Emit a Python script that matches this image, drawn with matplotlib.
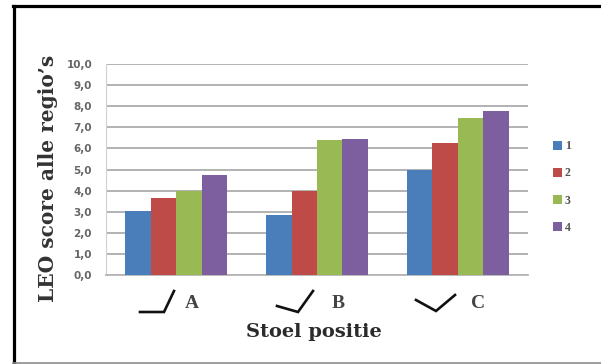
import matplotlib
matplotlib.use("Agg")
import matplotlib.pyplot as plt
from matplotlib.lines import Line2D
from matplotlib.patches import Patch
import numpy as np

W, H = 601, 364
categories = ["A", "B", "C"]
series_names = ["1", "2", "3", "4"]
s1 = [3.05, 2.85, 5.0]
s2 = [3.65, 4.0, 6.25]
s3 = [4.0, 6.4, 7.45]
s4 = [4.75, 6.45, 7.75]
series = [s1, s2, s3, s4]
colors = ["#4a7ebb", "#be4b48", "#98b954", "#7d5fa0"]
yticks = np.arange(0, 11)
ytick_labels = [f"{v},0" for v in yticks]

fig = plt.figure(figsize=(W / 100, H / 100), dpi=100, facecolor="white")

def fx(p): return p / W
def fy(p): return 1 - p / H

ax = fig.add_axes([fx(106), fy(275), fx(528 - 106), (275 - 64) / H])
x = np.arange(len(categories))
bw = 0.181
for i, (vals, c) in enumerate(zip(series, colors)):
    ax.bar(x + (i - 1.5) * bw, vals, bw, color=c, zorder=3, linewidth=0)
ax.set_xlim(-0.5, 2.5)
ax.set_ylim(0, 10)
ax.set_yticks(yticks, ytick_labels, fontsize=7.5, color="#666666", fontweight="bold", family="DejaVu Sans")
ax.set_xticks([])
ax.tick_params(axis="y", length=0, pad=10)
ax.grid(axis="y", color="#adadad", linewidth=1.3, zorder=0)
for s in ["top", "right"]:
    ax.spines[s].set_visible(False)
ax.spines["left"].set_color("#d0d0d0")
ax.spines["bottom"].set_color("#b5b5b5")
ax.spines["bottom"].set_linewidth(1.3)

serif = "DejaVu Serif"
fig.text(fx(48), fy(178), "LEO score alle regio’s", rotation=90, ha="center", va="center",
         family=serif, fontweight="bold", fontsize=14.5, color="#333333")
fig.text(fx(314), fy(332), "Stoel positie", ha="center", va="center",
         family=serif, fontweight="bold", fontsize=14, color="#2b2b2b")
for lab, px in zip(categories, [192, 338, 478]):
    fig.text(fx(px), fy(303), lab, ha="center", va="center", family="Liberation Serif",
             fontweight="bold", fontsize=14, color="#444444")

# hand-drawn angle icons below the groups
icons = [[(140, 312), (164, 312), (174, 291)],
         [(277, 306), (298, 312), (313, 291)],
         [(416, 300), (436, 311), (455, 295)]]
for pts in icons:
    fig.add_artist(Line2D([fx(p[0]) for p in pts], [fy(p[1]) for p in pts],
                          color="#111111", lw=1.9, solid_joinstyle="miter"))

handles = [Patch(facecolor=c, label=n) for c, n in zip(colors, series_names)]
fig.legend(handles=handles, loc="center left", bbox_to_anchor=(fx(553), fy(187)),
           frameon=False, handlelength=0.8, handleheight=0.8, handletextpad=0.2,
           labelspacing=1.28, prop={"family": "Liberation Serif", "weight": "bold", "size": 8.5},
           labelcolor="#505050", borderpad=0, borderaxespad=0)

# outer frame
fig.add_artist(Line2D([fx(13.5), fx(13.5)], [fy(364), fy(6)], color="black", lw=2.3))
fig.add_artist(Line2D([fx(12.5), fx(601)], [fy(6), fy(6)], color="black", lw=2.3))
fig.add_artist(Line2D([fx(13), fx(601)], [fy(363), fy(363)], color="#8c8c8c", lw=1.2))

fig.savefig("out.png", dpi=100)
